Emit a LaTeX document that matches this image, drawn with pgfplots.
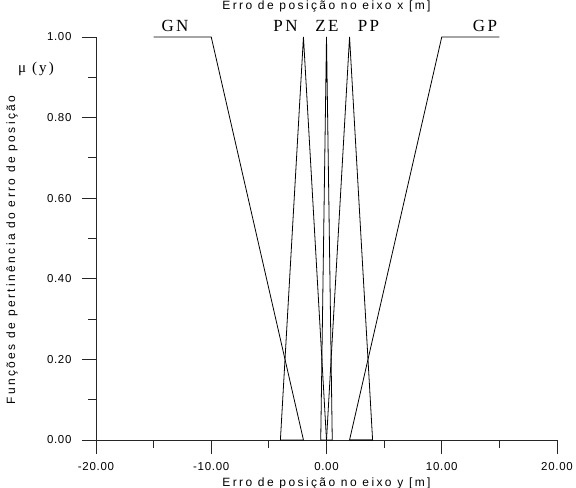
\documentclass[border=0pt]{standalone}
\usepackage{fontspec}
\setmainfont{Liberation Sans}
\newfontfamily\tickfont[LetterSpace=6]{Liberation Sans}
\newfontfamily\labelfont[LetterSpace=20]{Liberation Sans}
\newfontfamily\setfont[LetterSpace=14]{Liberation Serif}
\usepackage{pgfplots}
\pgfplotsset{compat=1.18}

\begin{document}
\begin{tikzpicture}
\path[use as bounding box] (-96bp,-48bp) rectangle (480bp,440bp);
\begin{axis}[
  at={(0,0)}, anchor=south west,
  scale only axis, width=461bp, height=403bp,
  xmin=-20, xmax=20, ymin=0, ymax=1,
  axis lines*=left,
  axis line style={black!85, line width=0.8bp},
  tick align=outside,
  tick style={black!85, line width=0.8bp},
  major tick length=14bp, minor tick length=8bp,
  xtick={-20,-10,0,10,20},
  xticklabels={-20.00,-10.00,0.00,10.00,20.00},
  minor xtick={-15,-5,5,15},
  ytick={0,0.2,0.4,0.6,0.8,1},
  yticklabels={0.00,0.20,0.40,0.60,0.80,1.00},
  minor ytick={0.1,0.3,0.5,0.7,0.9},
  ticklabel style={font=\tickfont\fontsize{11.5bp}{13bp}\selectfont},
  xticklabel style={yshift=-5bp},
  yticklabel style={xshift=-7bp},
  clip=false,
]
% GN
\addplot[black, line width=0.8bp, no marks] coordinates {(-15,1) (-10,1) (-2,0) (-4,0)};
% PN
\addplot[black, line width=0.8bp, no marks] coordinates {(-4,0) (-2,1) (0,0)};
% ZE
\addplot[black, line width=0.8bp, no marks] coordinates {(-0.5,0) (0,1) (0.5,0) (-0.5,0)};
% PP
\addplot[black, line width=0.8bp, no marks] coordinates {(0,0) (2,1) (4,0) (2,0)};
% GP
\addplot[black, line width=0.8bp, no marks] coordinates {(15,1) (10,1) (2,0) (4,0)};
\end{axis}

% titles and set names
\node[font=\labelfont\fontsize{12bp}{14bp}\selectfont] at (230.5bp,434bp) {Erro de posição no eixo x [m]};
\node[font=\labelfont\fontsize{12bp}{14bp}\selectfont] at (230.5bp,-43bp) {Erro de posição no eixo y [m]};
\node[font=\labelfont\fontsize{12bp}{14bp}\selectfont, rotate=90] at (-84bp,190bp) {Funções de pertinência do erro de posição};
\node[font=\setfont\fontsize{15bp}{17bp}\selectfont] at (-60bp,371bp) {μ (y)};
\begin{scope}[every node/.style={font=\setfont\fontsize{17bp}{19bp}\selectfont}]
\node at (79bp,414bp) {GN};
\node at (189.5bp,414bp) {PN};
\node at (231bp,414bp) {ZE};
\node at (272.5bp,414bp) {PP};
\node at (389bp,414bp) {GP};
\end{scope}
\end{tikzpicture}
\end{document}
